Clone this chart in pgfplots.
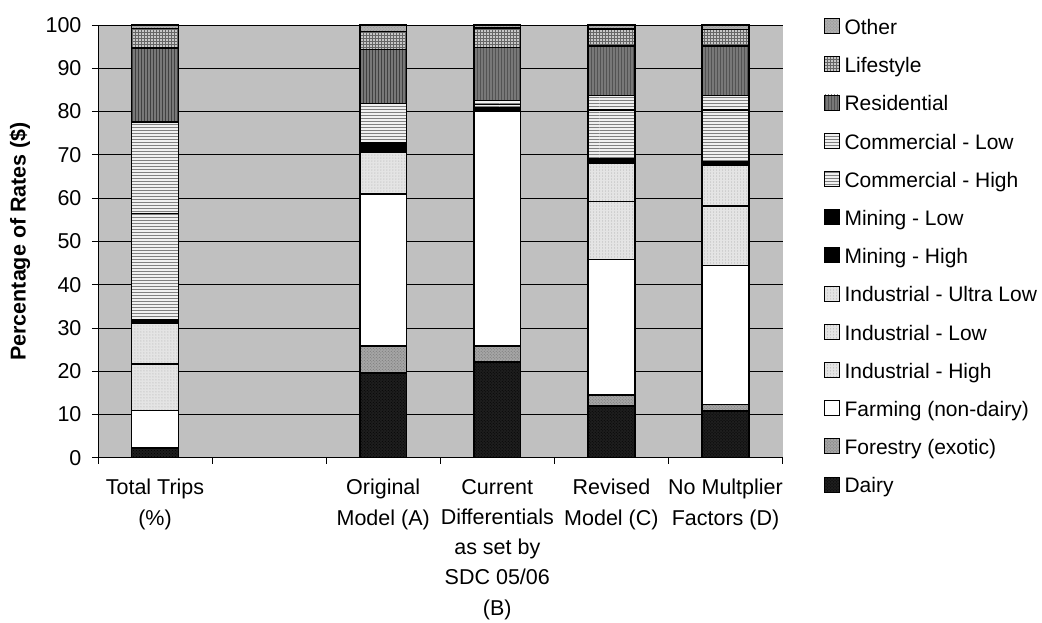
\documentclass[border=0pt]{standalone}
\usepackage{fontspec}
\setmainfont{Liberation Sans}
\usepackage{pgfplots}
\usepackage{pgfplotstable}
\pgfplotsset{compat=1.18}
\usetikzlibrary{patterns}

\definecolor{bgray}{RGB}{192,192,192}
\definecolor{cdairy}{RGB}{30,30,30}
\definecolor{cforest}{RGB}{165,165,165}
\definecolor{cind}{RGB}{228,228,228}
\definecolor{ccom}{RGB}{240,240,240}
\definecolor{cres}{RGB}{120,120,120}
\definecolor{clife}{RGB}{200,200,200}
\definecolor{cother}{RGB}{175,175,175}

\pgfplotstableread{
x Dairy Forestry Farming IndHigh IndLow IndUL MinHigh MinLow ComHigh ComLow Resid Life Other
0 2.2 0.0 8.7 10.8 9.3 0.0 0.9 0.0 24.5 21.2 17.1 4.5 0.8
2 19.6 6.2 35.1 9.6 0.0 0.0 2.3 0.0 9.1 0.0 12.4 4.2 1.5
3 22.1 3.7 54.2 0.3 0.0 0.0 0.5 0.0 0.8 0.9 12.3 4.5 0.7
4 11.9 2.6 31.3 13.4 8.9 0.0 0.9 0.0 11.4 3.3 11.5 3.9 0.9
5 10.8 1.5 32.1 13.8 9.3 0.0 0.9 0.0 12.0 3.3 11.4 3.9 1.0
}\data

\pgfplotsset{
  sdairy/.style={fill=cdairy, postaction={pattern=crosshatch dots, pattern color=black}},
  sforest/.style={fill=cforest, postaction={pattern=crosshatch dots, pattern color=black!55}},
  sfarm/.style={fill=white},
  sind/.style={fill=cind, postaction={pattern=dots, pattern color=black!35}},
  smin/.style={fill=black},
  scom/.style={fill=ccom, postaction={pattern=horizontal lines, pattern color=black!50}},
  sres/.style={fill=cres, postaction={pattern=vertical lines, pattern color=black!75}},
  slife/.style={fill=clife, postaction={pattern=grid, pattern color=black!60}},
  sother/.style={fill=cother, postaction={pattern=crosshatch dots, pattern color=black!45}},
}

\begin{document}
\begin{tikzpicture}
\begin{axis}[
  at={(0pt,0pt)}, anchor=south west,
  scale only axis, width=685pt, height=433pt,
  ybar stacked, bar width=0.41,
  xmin=-0.5, xmax=5.5, ymin=0, ymax=100,
  axis lines=left, axis line style={-, black, line width=0.8pt},
  axis background/.style={fill=bgray},
  ytick={0,10,...,100},
  ymajorgrids, grid style={black, line width=0.8pt},
  tick align=outside, major tick length=6pt, minor tick length=6pt,
  tick style={black, line width=0.8pt},
  xtick={0,2,3,4,5},
  xticklabels={{Total Trips\\(\%)},{Original\\Model (A)},{Current\\Differentials\\as set by\\SDC 05/06\\(B)},{Revised\\Model (C)},{No Multplier\\Factors (D)}},
  minor xtick={-0.5,0.5,...,5.5},
  xtick style={draw=none},
  minor x tick style={draw=black, line width=0.8pt},
  xticklabel style={align=center, font=\fontsize{21.5}{30.2}\selectfont, anchor=north, yshift=-12pt},
  yticklabel style={font=\fontsize{21.5}{24}\selectfont, xshift=-7pt},
  /pgf/number format/assume math mode=true,
  ylabel={\textbf{Percentage of Rates (\$)}},
  ylabel style={font=\fontsize{21.5}{24}\selectfont, at={(axis description cs:-0.114,0.5)}, anchor=center},
  legend style={draw=none, fill=none, at={(1.0555,1.023)}, anchor=north west,
    font=\fontsize{21}{24}\selectfont, row sep=17.5pt, legend cell align=left,
    /tikz/every odd column/.append style={column sep=3pt}},
  reverse legend,
  legend image code/.code={\draw[#1, line width=0.8pt] (0pt,-6pt) rectangle (15pt,9pt);},
  every axis plot/.append style={draw=black, line width=1.5pt},
]
\addplot[sdairy]  table[x=x,y=Dairy]    {\data}; \addlegendentry{Dairy}
\addplot[sforest] table[x=x,y=Forestry] {\data}; \addlegendentry{Forestry (exotic)}
\addplot[sfarm]   table[x=x,y=Farming]  {\data}; \addlegendentry{Farming (non-dairy)}
\addplot[sind]    table[x=x,y=IndHigh]  {\data}; \addlegendentry{Industrial - High}
\addplot[sind]    table[x=x,y=IndLow]   {\data}; \addlegendentry{Industrial - Low}
\addplot[sind]    table[x=x,y=IndUL]    {\data}; \addlegendentry{Industrial - Ultra Low}
\addplot[smin]    table[x=x,y=MinHigh]  {\data}; \addlegendentry{Mining - High}
\addplot[smin]    table[x=x,y=MinLow]   {\data}; \addlegendentry{Mining - Low}
\addplot[scom]    table[x=x,y=ComHigh]  {\data}; \addlegendentry{Commercial - High}
\addplot[scom]    table[x=x,y=ComLow]   {\data}; \addlegendentry{Commercial - Low}
\addplot[sres]    table[x=x,y=Resid]    {\data}; \addlegendentry{Residential}
\addplot[slife]   table[x=x,y=Life]     {\data}; \addlegendentry{Lifestyle}
\addplot[sother]  table[x=x,y=Other]    {\data}; \addlegendentry{Other}
\end{axis}
\path (-98pt,-164pt) rectangle (944pt,458pt);
\end{tikzpicture}
\end{document}
